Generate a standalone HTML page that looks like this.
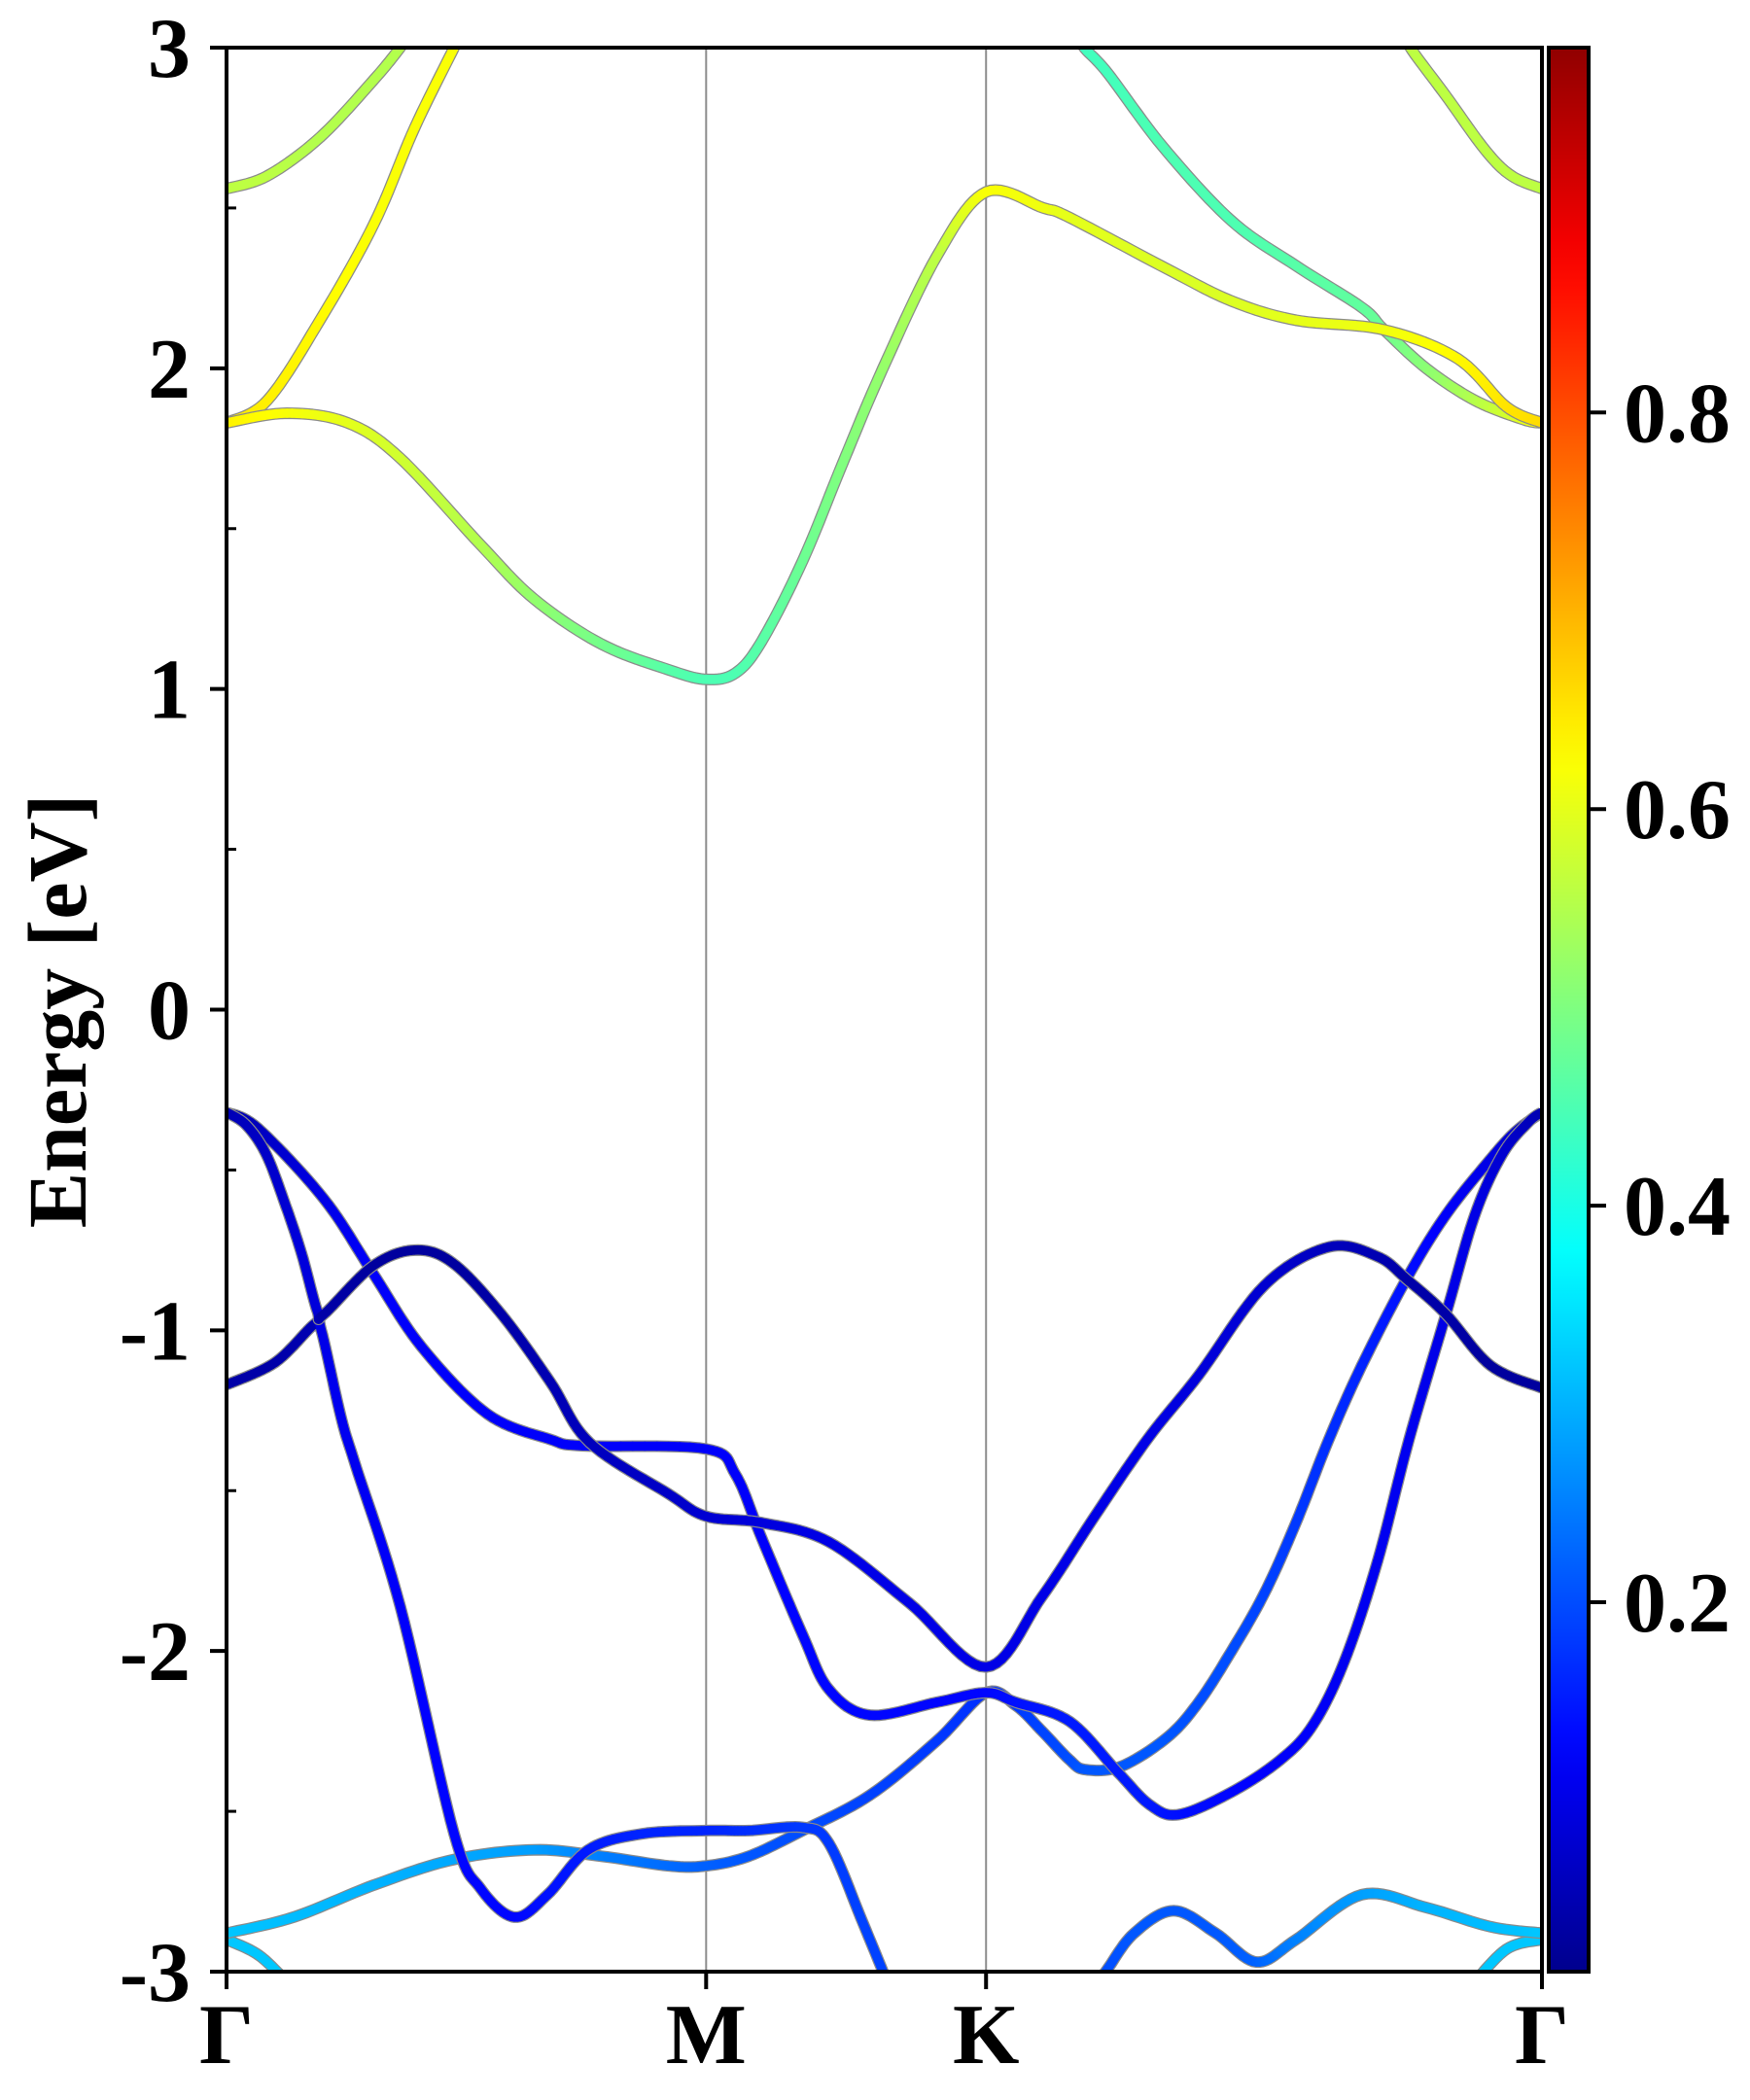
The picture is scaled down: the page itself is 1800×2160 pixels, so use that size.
<!DOCTYPE html>
<html><head><meta charset="utf-8"><style>
html,body{margin:0;padding:0;background:#fff;}
svg{display:block;}
text{font-family:"Liberation Serif","Times New Roman",serif;font-weight:bold;}
</style></head><body>
<svg id="chart" width="1800" height="2160" viewBox="0 0 1800 2160" xmlns="http://www.w3.org/2000/svg">
<defs>
<clipPath id="plotclip"><rect x="233" y="49" width="1353" height="1979"/></clipPath>
<linearGradient id="cbgrad" x1="0" y1="1" x2="0" y2="0"></linearGradient>
</defs>
<g id="bands" clip-path="url(#plotclip)"></g>
<g id="axes"></g>
</svg>
<script>
// ---- data ----
const yTicks = [-3, -2, -1, 0, 1, 2, 3];
const yMinorTicks = [-2.5, -1.5, -0.5, 0.5, 1.5, 2.5];
const kLabels = ["Γ", "M", "K", "Γ"];
const kPositions = [0, 0.3646, 0.5774, 1];
const cbTicks = [0.2, 0.4, 0.6, 0.8];
const cbRange = [0.0137, 0.984];

const bandCB1_k = [0,.046,.092,.132,.193,.234,.285,.336,.3646,.387,.407,.438,.468,.499,.540,.5774,.621,.641,.715,.764,.813,.880,.936,.973,1];
const bandCB1_e = [1.83,1.86,1.83,1.72,1.45,1.28,1.14,1.06,1.03,1.05,1.15,1.40,1.70,2.0,2.35,2.55,2.50,2.47,2.31,2.21,2.15,2.12,2.03,1.88,1.83];
const bandCB1_w = [.64,.62,.6,.58,.55,.52,.49,.46,.45,.45,.46,.48,.5,.52,.56,.62,.61,.6,.59,.59,.6,.61,.63,.65,.66];

const bandCB2L_k = [0,.031,.071,.112,.143,.173,.18];
const bandCB2L_e = [1.83,1.90,2.15,2.45,2.75,3.0,3.06];
const bandCB2L_w = [.65,.64,.63,.62,.62,.62,.62];

const bandCB2R_k = [.645,.652,.67,.712,.764,.813,.863,.880,.912,.949,.986,1];
const bandCB2R_e = [3.05,3.0,2.92,2.69,2.46,2.32,2.19,2.12,2.0,1.90,1.84,1.83];
const bandCB2R_w = [.44,.44,.44,.45,.45,.46,.47,.48,.51,.55,.6,.63];

const bandCB3L_k = [0,.031,.071,.112,.132,.14];
const bandCB3L_e = [2.56,2.6,2.72,2.9,3.0,3.05];
const bandCB3L_w = [.56,.56,.55,.55,.55,.55];

const bandCB3R_k = [.896,.9,.927,.957,.977,1];
const bandCB3R_e = [3.05,3.0,2.85,2.68,2.6,2.56];
const bandCB3R_w = [.56,.56,.56,.56,.56,.56];

const bandA_k = [0,.015,.030,.044,.057,.069,.074,.111,.143,.172,.209,.246,.276,.336,.3646,.407,.458,.519,.5774,.62,.66,.70,.739,.789,.838,.875,.897,.927,.961,1];
const bandA_e = [-0.32,-0.36,-0.45,-0.6,-0.76,-0.94,-0.95,-0.80,-0.75,-0.79,-0.95,-1.16,-1.35,-1.51,-1.58,-1.60,-1.66,-1.85,-2.05,-1.83,-1.58,-1.34,-1.14,-0.86,-0.74,-0.77,-0.84,-0.95,-1.11,-1.18];
const bandA_w = [.05,.06,.07,.08,.09,.09,.04,.03,.03,.03,.04,.05,.06,.07,.08,.09,.1,.1,.1,.1,.1,.1,.09,.08,.06,.05,.04,.04,.03,.03];

const bandB_k = [0,.024,.074,.111,.148,.198,.246,.271,.3646,.387,.407,.438,.458,.489,.540,.5774,.60,.641,.678,.702,.724,.764,.801,.826,.850,.875,.899,.927,.949,.97,.99,1];
const bandB_e = [-0.32,-0.37,-0.59,-0.82,-1.05,-1.26,-1.34,-1.36,-1.37,-1.45,-1.65,-1.95,-2.12,-2.2,-2.16,-2.13,-2.16,-2.22,-2.38,-2.48,-2.51,-2.44,-2.34,-2.23,-2.03,-1.72,-1.34,-0.95,-0.64,-0.45,-0.35,-0.32];
const bandB_w = [.05,.06,.1,.12,.12,.12,.12,.12,.12,.12,.12,.13,.13,.13,.13,.13,.14,.15,.15,.15,.14,.13,.12,.12,.11,.11,.11,.1,.1,.08,.06,.05];

const bandC_k = [0,.037,.067,.072,.087,.098,.132,.173,.193,.219,.244,.275,.316,.3646,.397,.438,.458,.484,.504];
const bandC_e = [-1.17,-1.10,-0.98,-1.0,-1.27,-1.42,-1.86,-2.57,-2.74,-2.83,-2.76,-2.62,-2.57,-2.56,-2.56,-2.55,-2.6,-2.85,-3.05];
const bandC_w = [.04,.04,.05,.1,.11,.11,.12,.13,.13,.13,.14,.15,.16,.16,.17,.18,.18,.19,.19];

const bandD_k = [0,.051,.112,.173,.234,.285,.336,.3646,.397,.438,.489,.540,.5774,.60,.62,.641,.653,.680,.715,.739,.764,.789,.813,.838,.863,.897,.927,.96,.98,1];
const bandD_e = [-2.88,-2.83,-2.73,-2.65,-2.62,-2.64,-2.67,-2.67,-2.64,-2.56,-2.45,-2.28,-2.13,-2.17,-2.25,-2.34,-2.37,-2.36,-2.27,-2.16,-2.0,-1.82,-1.60,-1.34,-1.11,-0.84,-0.64,-0.47,-0.38,-0.32];
const bandD_w = [.32,.31,.3,.29,.28,.25,.23,.22,.21,.2,.19,.18,.17,.18,.19,.2,.21,.21,.21,.2,.2,.19,.18,.17,.16,.14,.12,.1,.08,.06];

const bandE_k = [.66,.670,.690,.720,.752,.783,.813,.863,.912,.961,1];
const bandE_e = [-3.05,-2.99,-2.88,-2.81,-2.88,-2.97,-2.90,-2.76,-2.80,-2.86,-2.88];
const bandE_w = [.2,.2,.21,.21,.21,.22,.25,.28,.3,.31,.32];

const bandFL_k = [0,.025,.05];
const bandFL_e = [-2.9,-2.95,-3.05];
const bandFL_w = [.32,.32,.32];
const bandFR_k = [.945,.973,1];
const bandFR_e = [-3.05,-2.93,-2.90];
const bandFR_w = [.32,.32,.32];

// ---- layout ----
const X0 = 233, X1 = 1586, Y0 = 49, Y1 = 2028;
const EMIN = -3, EMAX = 3;
const xs = k => X0 + k * (X1 - X0);
const ys = e => Y1 - (e - EMIN) / (EMAX - EMIN) * (Y1 - Y0);
const NS = "http://www.w3.org/2000/svg";
const FONT = '"Liberation Serif", "Times New Roman", serif';
const gB = document.getElementById('bands');
const gA = document.getElementById('axes');
function mk(tag, attrs, parent) {
  const el = document.createElementNS(NS, tag);
  for (const a in attrs) el.setAttribute(a, attrs[a]);
  parent.appendChild(el);
  return el;
}
function jet(v) {
  v = Math.max(0, Math.min(1, v));
  const r = Math.max(0, Math.min(1, 1.5 - Math.abs(4 * v - 3)));
  const g = Math.max(0, Math.min(1, 1.5 - Math.abs(4 * v - 2)));
  const b = Math.max(0, Math.min(1, 1.5 - Math.abs(4 * v - 1)));
  return `rgb(${Math.round(r*255)},${Math.round(g*255)},${Math.round(b*255)})`;
}
function sample(ks, es, ws) {
  const pts = [];
  const n = ks.length;
  for (let i = 0; i < n - 1; i++) {
    const p0 = i > 0 ? i - 1 : i, p3 = i + 2 < n ? i + 2 : i + 1;
    const steps = 12;
    for (let s = 0; s < steps; s++) {
      const t = s / steps;
      const cr = (a, b, c, d) => {
        const t2 = t * t, t3 = t2 * t;
        return 0.5 * ((2 * b) + (-a + c) * t + (2 * a - 5 * b + 4 * c - d) * t2 + (-a + 3 * b - 3 * c + d) * t3);
      };
      const X = cr(xs(ks[p0]), xs(ks[i]), xs(ks[i+1]), xs(ks[p3]));
      const Y = cr(ys(es[p0]), ys(es[i]), ys(es[i+1]), ys(es[p3]));
      pts.push([X, Y, ws[i] + (ws[i+1] - ws[i]) * t]);
    }
  }
  pts.push([xs(ks[n-1]), ys(es[n-1]), ws[n-1]]);
  return pts;
}
function drawBand(name, ks, es, ws) {
  const g = mk('g', {}, gB);
  
  
  const pts = sample(ks, es, ws);
  const d = pts.map((p, i) => (i ? 'L' : 'M') + p[0].toFixed(1) + ' ' + p[1].toFixed(1)).join(' ');
  const outline = mk('path', {d: d, fill: 'none', stroke: '#8a8a8a', 'stroke-width': 12, 'stroke-linejoin': 'round'}, g);
  
  
  for (let i = 0; i < pts.length - 1; i++) {
    const seg = mk('line', {x1: pts[i][0], y1: pts[i][1], x2: pts[i+1][0], y2: pts[i+1][1],
      stroke: jet((pts[i][2] + pts[i+1][2]) / 2), 'stroke-width': 9.5, 'stroke-linecap': 'round'}, g);
    
    
  }
}
[kPositions[1], kPositions[2]].forEach(k => {
  const l = mk('line', {x1: xs(k), x2: xs(k), y1: Y0, y2: Y1, stroke: '#8c8c8c', 'stroke-width': 2}, gB);
  
  
});
drawBand('band-c3-left', bandCB3L_k, bandCB3L_e, bandCB3L_w);
drawBand('band-c3-right', bandCB3R_k, bandCB3R_e, bandCB3R_w);
drawBand('band-c2-left', bandCB2L_k, bandCB2L_e, bandCB2L_w);
drawBand('band-c2-right', bandCB2R_k, bandCB2R_e, bandCB2R_w);
drawBand('band-c1', bandCB1_k, bandCB1_e, bandCB1_w);
drawBand('band-f-left', bandFL_k, bandFL_e, bandFL_w);
drawBand('band-f-right', bandFR_k, bandFR_e, bandFR_w);
drawBand('band-e', bandE_k, bandE_e, bandE_w);
drawBand('band-d', bandD_k, bandD_e, bandD_w);
drawBand('band-c', bandC_k, bandC_e, bandC_w);
drawBand('band-b', bandB_k, bandB_e, bandB_w);
drawBand('band-a', bandA_k, bandA_e, bandA_w);

const frame = mk('rect', {x: X0, y: Y0, width: X1 - X0, height: Y1 - Y0, fill: 'none', stroke: '#000', 'stroke-width': 4}, gA);


yTicks.forEach(v => {
  const t = mk('line', {x1: X0 - 17, x2: X0, y1: ys(v), y2: ys(v), stroke: '#000', 'stroke-width': 4}, gA);
  
  
  const tx = mk('text', {x: 196, y: ys(v) + 30, 'text-anchor': 'end', 'font-size': 88, 'font-family': FONT, 'font-weight': 'bold'}, gA);
  tx.textContent = String(v);
  
  
});
yMinorTicks.forEach(v => {
  const t = mk('line', {x1: X0, x2: X0 + 10, y1: ys(v), y2: ys(v), stroke: '#000', 'stroke-width': 3}, gA);
  
  
});
kPositions.forEach((k, i) => {
  const t = mk('line', {x1: xs(k), x2: xs(k), y1: Y1, y2: Y1 + 18, stroke: '#000', 'stroke-width': 4}, gA);
  
  
  const tx = mk('text', {x: xs(k), y: 2122, 'text-anchor': 'middle', 'font-size': 88, 'font-family': FONT, 'font-weight': 'bold'}, gA);
  tx.textContent = kLabels[i];
  
  
});
const yl = mk('text', {x: 0, y: 0, 'text-anchor': 'middle', 'font-size': 86, 'font-family': FONT, 'font-weight': 'bold', transform: 'translate(88,1040) rotate(-90)'}, gA);
yl.textContent = 'Energy [eV]';



const CB0 = 1593, CB1 = 1634;
const grad = document.getElementById('cbgrad');
for (let i = 0; i <= 40; i++) {
  const v = cbRange[0] + (cbRange[1] - cbRange[0]) * i / 40;
  mk('stop', {offset: (i / 40 * 100) + '%', 'stop-color': jet(v)}, grad);
}
const cb = mk('rect', {x: CB0, y: Y0, width: CB1 - CB0, height: Y1 - Y0, fill: 'url(#cbgrad)', stroke: '#000', 'stroke-width': 4}, gA);


const cy = v => Y1 - (v - cbRange[0]) / (cbRange[1] - cbRange[0]) * (Y1 - Y0);
cbTicks.forEach(v => {
  const t = mk('line', {x1: CB1, x2: CB1 + 18, y1: cy(v), y2: cy(v), stroke: '#000', 'stroke-width': 4}, gA);
  
  
  const tx = mk('text', {x: 1670, y: cy(v) + 30, 'font-size': 88, 'font-family': FONT, 'font-weight': 'bold'}, gA);
  tx.textContent = v.toFixed(1);
  
  
});
</script>
</body></html>
